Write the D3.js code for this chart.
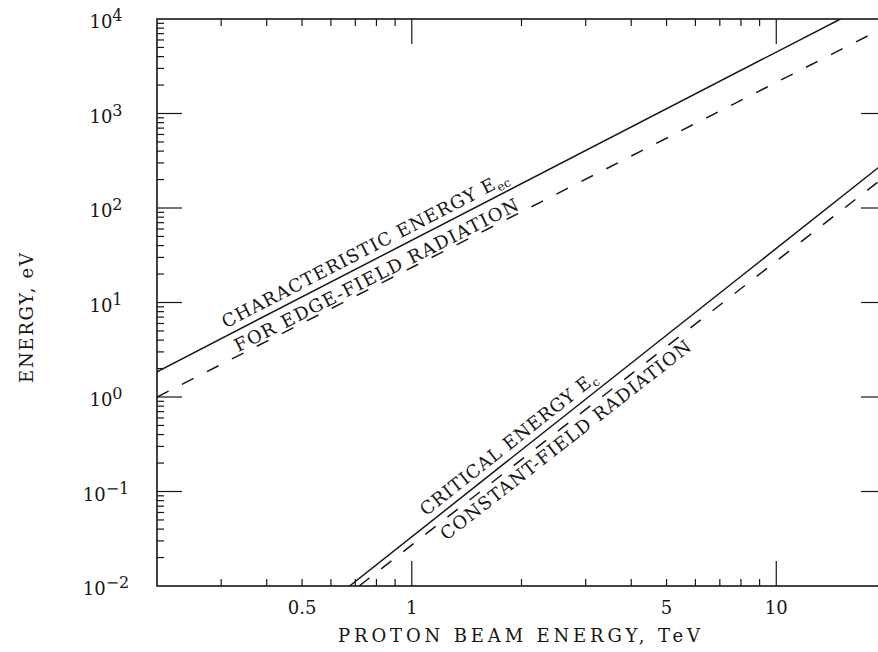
<!DOCTYPE html>
<html><head><meta charset="utf-8">
<script src="https://cdn.jsdelivr.net/npm/d3@7"></script>
<style>html,body{margin:0;padding:0;background:#fff;} svg{display:block;}</style>
</head><body><svg id="c" width="878" height="652"></svg>
<script>
// ---- data ----
const xDomain = [0.2, 20];          // TeV
const yDomain = [1e-2, 1e4];        // eV
const xMajorTicks = [1, 10];
const xTickLabels = [0.5, 1, 5, 10];
const xTickText = ["0.5", "1", "5", "10"];
const yMajorTicks = [1e-2, 1e-1, 1, 10, 100, 1000, 1e4];
const yTickExponents = ["\u22122", "\u22121", "0", "1", "2", "3", "4"];
const edgeSolid   = [[0.2, 1.85], [15, 10000]];   // characteristic energy E_ec
const edgeDashed  = [[0.2, 1.0],  [20, 8300]];
const constSolid  = [[0.675, 0.01], [20, 310]];   // critical energy E_c
const constDashed = [[0.717, 0.01], [20, 220]];
const xTitle = "PROTON BEAM ENERGY, TeV";
const yTitle = "ENERGY, eV";

// ---- layout ----
const L = 157, R = 886, T = 19, B = 586;
const ink = "#161616";
const font = "'DejaVu Serif', 'Liberation Serif', serif";

const svg = d3.select("#c");
const x = d3.scaleLog().domain(xDomain).range([L, R]);
const y = d3.scaleLog().domain(yDomain).range([B, T]);

svg.append("defs").append("clipPath").attr("id", "plot")
  .append("rect").attr("x", L).attr("y", T).attr("width", R - L).attr("height", B - T);

// frame
svg.append("rect").attr("x", L).attr("y", T).attr("width", R - L).attr("height", B - T)
  .attr("fill", "none").attr("stroke", ink).attr("stroke-width", 1.6);

// ticks
const major = 25, minor = 7;
const xt = x.ticks().filter(v => v > xDomain[0] * 1.0001 && v < xDomain[1] * 0.9999);
const isMajorX = v => xMajorTicks.some(m => Math.abs(m - v) < 1e-9);
const tg = svg.append("g").attr("stroke", ink).attr("stroke-width", 1.2);
xt.forEach(v => {
  const len = isMajorX(v) ? major : minor;
  tg.append("line").attr("x1", x(v)).attr("x2", x(v)).attr("y1", B).attr("y2", B - len);
  tg.append("line").attr("x1", x(v)).attr("x2", x(v)).attr("y1", T).attr("y2", T + len);
});
const yt = y.ticks().filter(v => v > yDomain[0] * 1.0001 && v < yDomain[1] * 0.9999);
const isMajorY = v => yMajorTicks.some(m => Math.abs(Math.log10(m) - Math.log10(v)) < 1e-9);
yt.forEach(v => {
  const len = isMajorY(v) ? major : minor;
  tg.append("line").attr("y1", y(v)).attr("y2", y(v)).attr("x1", L).attr("x2", L + len);
  tg.append("line").attr("y1", y(v)).attr("y2", y(v)).attr("x1", R).attr("x2", R - len);
});

// x tick labels
xTickLabels.forEach((v, i) => {
  svg.append("text").attr("x", x(v)).attr("y", 614).attr("text-anchor", "middle")
    .attr("font-family", font).attr("font-size", 18).attr("fill", ink).text(xTickText[i]);
});
// y tick labels
yMajorTicks.forEach((v, i) => {
  const t = svg.append("text").attr("x", 106).attr("y", y(v) + 9).attr("text-anchor", "middle")
    .attr("font-family", font).attr("font-size", 18).attr("fill", ink);
  t.append("tspan").text("10");
  t.append("tspan").attr("dy", -7).attr("font-size", 16).text(yTickExponents[i]);
});

// axis titles
svg.append("text").attr("x", 519).attr("y", 642).attr("text-anchor", "middle")
  .attr("font-family", font).attr("font-size", 18).attr("fill", ink)
  .attr("textLength", 362).attr("lengthAdjust", "spacing").text(xTitle);
svg.append("text").attr("transform", "translate(33,318) rotate(-90)").attr("text-anchor", "middle")
  .attr("font-family", font).attr("font-size", 18).attr("fill", ink)
  .attr("textLength", 130).attr("lengthAdjust", "spacing").text(yTitle);

// curves
const lineGen = d3.line().x(d => x(d[0])).y(d => y(d[1]));
const cg = svg.append("g").attr("clip-path", "url(#plot)").attr("fill", "none")
  .attr("stroke", ink).attr("stroke-width", 1.5);
cg.append("path").datum(edgeSolid).attr("d", lineGen);
cg.append("path").datum(edgeDashed).attr("d", lineGen).attr("stroke-dasharray", "13,15");
cg.append("path").datum(constSolid).attr("d", lineGen);
cg.append("path").datum(constDashed).attr("d", lineGen).attr("stroke-dasharray", "13,15");

// labels along curves
const lineLabels = [
  {line: edgeSolid,   at: 0.315, off: -7, text: "CHARACTERISTIC ENERGY E", sub: "ec", len: 305},
  {line: edgeDashed,  at: 0.337, off: -3, text: "FOR EDGE-FIELD RADIATION", len: 316},
  {line: constSolid,  at: 1.125, off: -7, text: "CRITICAL ENERGY E", sub: "c", len: 212},
  {line: constDashed, at: 1.16,  off: 18, text: "CONSTANT-FIELD RADIATION", len: 312}
];
lineLabels.forEach(lb => {
  const p0 = [x(lb.line[0][0]), y(lb.line[0][1])];
  const p1 = [x(lb.line[1][0]), y(lb.line[1][1])];
  const ang = Math.atan2(p1[1] - p0[1], p1[0] - p0[0]) * 180 / Math.PI;
  const px = x(lb.at);
  const py = p0[1] + (px - p0[0]) * (p1[1] - p0[1]) / (p1[0] - p0[0]);
  const g = svg.append("g").attr("transform", `translate(${px},${py}) rotate(${ang})`);
  g.append("text").attr("x", 0).attr("y", lb.off).attr("font-family", font).attr("font-size", 18)
    .attr("fill", ink).attr("textLength", lb.len).attr("lengthAdjust", "spacing").text(lb.text);
  if (lb.sub) {
    g.append("text").attr("x", lb.len + 1).attr("y", lb.off + 4).attr("font-family", font)
      .attr("font-size", 12).attr("fill", ink).text(lb.sub);
  }
});
</script></body></html>
